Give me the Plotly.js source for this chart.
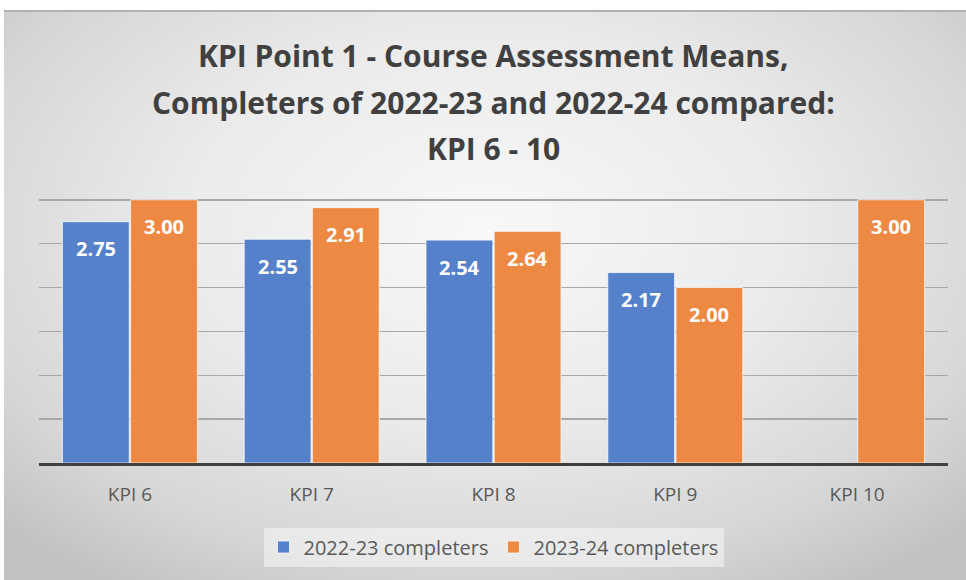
<!DOCTYPE html>
<html>
<head>
<meta charset="utf-8">
<script src="https://cdn.plot.ly/plotly-3.0.1.min.js"></script>
<style>
  html, body { margin:0; padding:0; background:#ffffff; }
  #bg { position:absolute; left:4px; top:10px; width:962px; height:570px;
        background: radial-gradient(ellipse 70% 75% at 50% 38%, #f8f8f8 0%, #ebebeb 45%, #d6d6d6 80%, #c2c2c2 100%);
        border-top:2px solid #b0b0b0; }
  #chart { position:absolute; left:0; top:0; width:966px; height:580px; }
</style>
</head>
<body>
<div id="bg"></div>
<div id="chart"></div>
<script>
const categories = ["KPI 6", "KPI 7", "KPI 8", "KPI 9", "KPI 10"];
const seriesNames = ["2022-23 completers", "2023-24 completers"];
const completers2223 = [2.75, 2.55, 2.54, 2.17, null];
const completers2324 = [3.00, 2.91, 2.64, 2.00, 3.00];
const titleLines = [
  "KPI Point 1 - Course Assessment Means,",
  "Completers of 2022-23 and 2022-24 compared:",
  "KPI 6 - 10"
];

const FONT = "'Open Sans', 'Noto Sans', sans-serif";
const colors = ["#5580CA", "#EE8944"];
const bargap = 0.25, bargroupgap = 0.02;
const series = [completers2223, completers2324];

const traces = series.map((vals, k) => ({
  type: "bar",
  name: seriesNames[k],
  x: categories,
  y: vals,
  marker: { color: colors[k], line: { color: "rgba(255,255,255,0.75)", width: 1 } },
  hoverinfo: "skip"
}));

const annotations = [];
const half = (1 - bargap) / 4;
series.forEach((vals, k) => {
  vals.forEach((v, i) => {
    if (v === null) return;
    annotations.push({
      x: i + (k === 0 ? -half : half), y: v, xref: "x", yref: "y",
      text: v.toFixed(2), showarrow: false, yanchor: "middle", yshift: -27,
      font: { family: FONT, size: 20, color: "#ffffff", weight: "bold" }
    });
  });
});

const plotTop = 198, plotBottom = 463, plotH = plotBottom - plotTop;
const titleY = [56, 102, 148];
titleLines.forEach((t, j) => {
  annotations.push({
    x: 0.5, xref: "paper", y: (plotBottom - titleY[j]) / plotH, yref: "paper",
    text: "<b>" + t + "</b>", showarrow: false, xanchor: "center", yanchor: "middle",
    font: { family: FONT, size: 30, color: "#404040" }
  });
});

const layout = {
  width: 966, height: 580,
  margin: { l: 39, r: 18, t: plotTop, b: 580 - plotBottom },
  paper_bgcolor: "rgba(0,0,0,0)",
  plot_bgcolor: "rgba(0,0,0,0)",
  barmode: "group",
  bargap: bargap, bargroupgap: bargroupgap,
  showlegend: true,
  legend: {
    orientation: "h", x: 0.5, xanchor: "center", y: -84 / plotH, yanchor: "middle",
    bgcolor: "rgba(255,255,255,0.45)", borderwidth: 0,
    font: { family: FONT, size: 20, color: "#595959" },
    itemwidth: 30, tracegroupgap: 0
  },
  xaxis: {
    type: "category",
    showline: true, linecolor: "#404040", linewidth: 3,
    ticks: "", showgrid: false,
    tickfont: { family: FONT, size: 19, color: "#595959" },
    ticklabelstandoff: 12
  },
  yaxis: {
    range: [0, 3.02], dtick: 0.5, showticklabels: false,
    showgrid: true, gridcolor: "#a8a8a8", gridwidth: 1.5,
    zeroline: false, fixedrange: true
  },
  annotations: annotations
};

Plotly.newPlot("chart", traces, layout, { displayModeBar: false, staticPlot: true });
</script>
</body>
</html>
